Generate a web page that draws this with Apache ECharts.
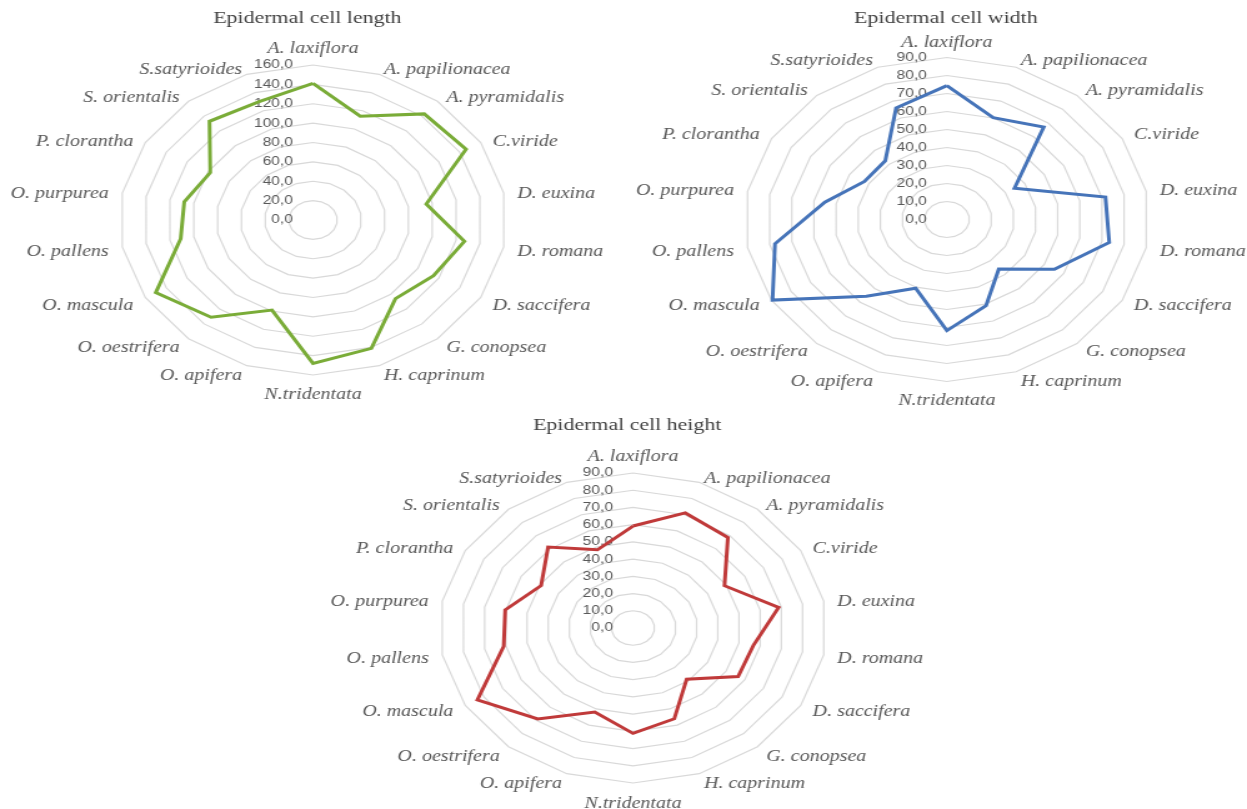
<!DOCTYPE html>
<html>
<head>
<meta charset="utf-8">
<script src="https://cdn.jsdelivr.net/npm/echarts@6/dist/echarts.min.js"></script>
<style>
  html, body { margin: 0; padding: 0; background: #ffffff; overflow: hidden; }
  #main { width: 998px; height: 809px; transform: scaleX(1.2495); transform-origin: 0 0; }
</style>
</head>
<body>
<div id="main"></div>
<script>
const categories = ['A. laxiflora', 'A. papilionacea', 'A. pyramidalis', 'C.viride', 'D. euxina', 'D. romana', 'D. saccifera', 'G. conopsea', 'H. caprinum', 'N.tridentata', 'O. apifera', 'O. oestrifera', 'O. mascula', 'O. pallens', 'O. purpurea', 'P. clorantha', 'S. orientalis', 'S.satyrioides'];
const cellLength = [141, 114, 143, 146, 95, 127, 115, 106, 141, 148, 99, 131, 150, 111, 108, 98, 133, 130];
const cellWidth = [74.4, 60.2, 67.0, 34.7, 71.6, 73.3, 55.2, 35.9, 50.9, 61.7, 40.6, 55.7, 89.5, 77.6, 55.1, 42.3, 42.6, 66.0];
const cellHeight = [59.2, 71.1, 68.6, 49.1, 68.7, 56.9, 56.4, 38.8, 56.1, 61.2, 51.9, 68.9, 83.5, 61.0, 60.3, 49.3, 61.4, 48.3];
const titles = ['Epidermal cell length', 'Epidermal cell width', 'Epidermal cell height'];
const axisMax = [160, 90, 90];
const splits = [8, 9, 9];

// ECharts lays radar indicators counter-clockwise; reorder so they run clockwise from the top
function cw(arr) { return arr.map((_, i) => arr[i === 0 ? 0 : arr.length - i]); }

const chart = echarts.init(document.getElementById('main'), null, { renderer: 'canvas' });

const baseGap = 11;
const layout = [
  { center: [250.5, 220], radius: 155, title: [246, 18], gap: 8, nudge: [0, 6, 5, 4.5, 3, 3, 2.5, 1, 0, 1] },
  { center: [757.8, 219.5], radius: 162, title: [757, 18], gap: 4.5, nudge: [0, 4, 4, 2, 1.5, 2.5, 0, 0, 0, 0] },
  { center: [506.6, 628], radius: 155, title: [502, 425], gap: 8, nudge: [0, 6.5, 5, 4, 3, 2, 1, 2, 0, 1.5] }
];
const colors = ['#7aac38', '#4674b9', '#c03a3a'];
const seriesData = [cellLength, cellWidth, cellHeight];
const nameFont = { color: '#595959', fontFamily: 'Liberation Serif', fontStyle: 'italic', fontSize: 16 };

function fmt(v) { return Number(v).toFixed(1).replace('.', ','); }

function richFor(l) {
  const d = baseGap - l.gap;
  const n = categories.length;
  const rich = {};
  categories.forEach((c, j) => {
    const k = Math.min(j, n - j);
    const th = k * Math.PI * 2 / n;
    let pad = [0, 0, 0, 0];
    if (j !== 0 && k < n / 2) {
      const extra = l.nudge[k] - d * Math.cos(th);
      const side = d * Math.sin(th);
      pad = [2 * Math.max(extra, 0), j > n / 2 ? side : 0, 2 * Math.max(-extra, 0), j < n / 2 ? side : 0];
    } else if (k === n / 2) {
      pad = [d + l.nudge[k], 0, 0, 0];
    }
    rich['s' + j] = Object.assign({ padding: pad }, nameFont);
  });
  return rich;
}

const radars = layout.map((l, k) => ({
  center: l.center,
  radius: l.radius,
  startAngle: 90,
  shape: 'polygon',
  splitNumber: splits[k],
  nameGap: l.gap,
  axisName: Object.assign({
    formatter: (name) => '{s' + categories.indexOf(name) + '|' + name + '}',
    rich: richFor(l)
  }, nameFont),
  splitLine: { lineStyle: { color: '#d9d9d9', width: 1.2 } },
  splitArea: { show: false },
  axisLine: { show: false },
  axisTick: { show: false },
  axisLabel: { show: false },
  indicator: cw(categories).map((c, i) => i === 0
    ? { name: c, min: 0, max: axisMax[k], axisLabel: { show: true, margin: 16, color: '#595959', fontFamily: 'Liberation Sans', fontSize: 12.5, formatter: fmt } }
    : { name: c, min: 0, max: axisMax[k] })
}));

const series = seriesData.map((d, k) => ({
  type: 'radar',
  radarIndex: k,
  symbol: 'none',
  silent: true,
  lineStyle: { color: colors[k], width: 3, join: 'miter' },
  itemStyle: { color: colors[k] },
  data: [{ value: cw(d), name: titles[k] }]
}));

const graphic = layout.map((l, k) => ({
  type: 'text',
  x: l.title[0],
  y: l.title[1],
  style: {
    text: titles[k],
    fill: '#404040',
    fontFamily: 'Liberation Serif',
    fontSize: 17.5,
    align: 'center',
    verticalAlign: 'middle',
    textAlign: 'center',
    textVerticalAlign: 'middle'
  }
}));

chart.setOption({
  backgroundColor: '#ffffff',
  animation: false,
  radar: radars,
  series: series,
  graphic: graphic
});
</script>
</body>
</html>
